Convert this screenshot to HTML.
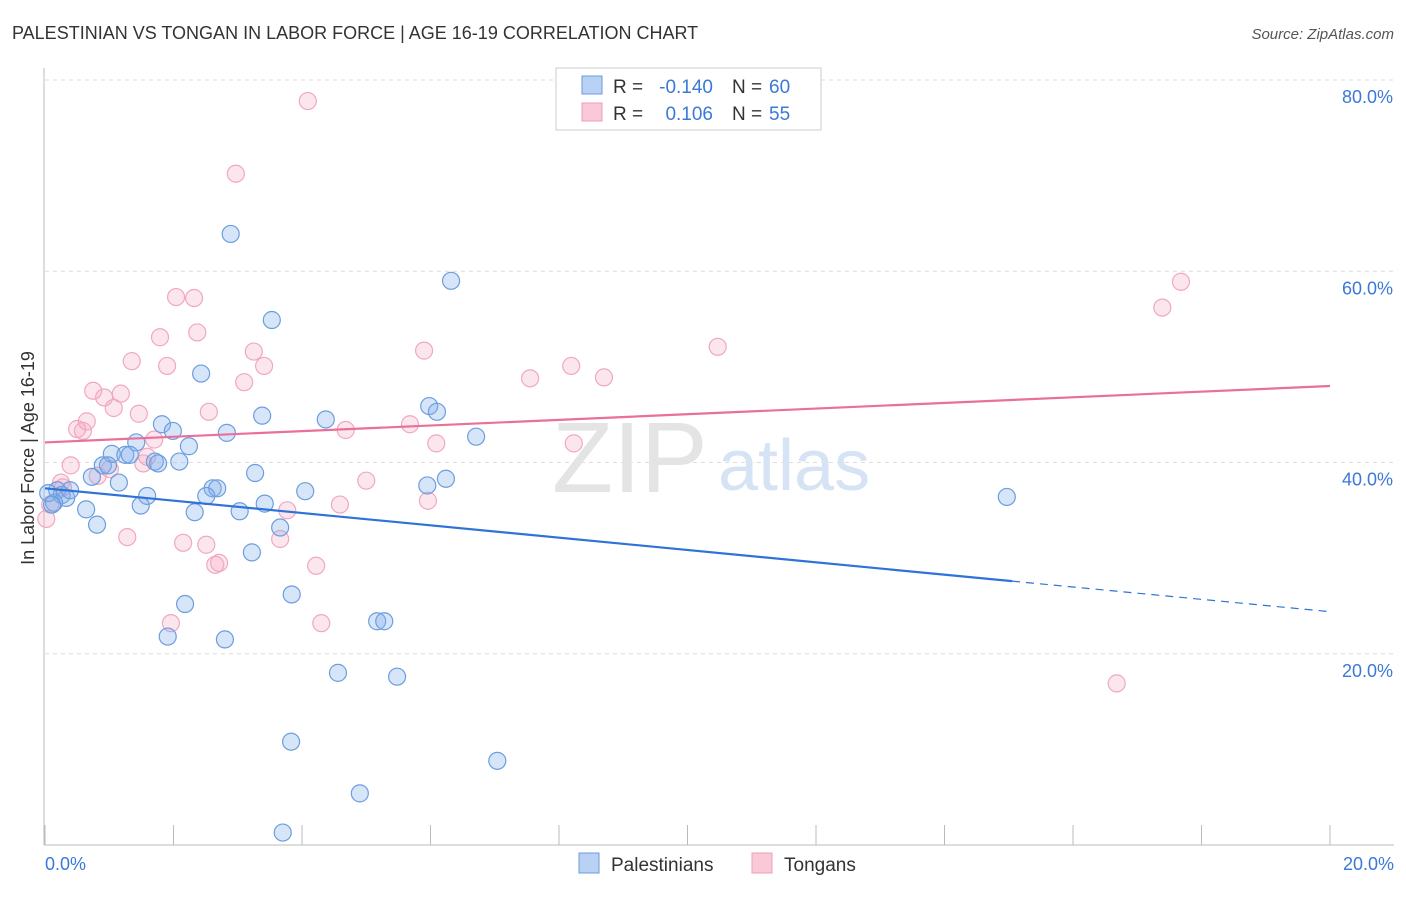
<!DOCTYPE html>
<html><head><meta charset="utf-8"><style>
body{margin:0;background:#fff;font-family:"Liberation Sans",sans-serif}
svg text{font-family:"Liberation Sans",sans-serif}
</style></head><body>
<svg id="chart" width="1406" height="892" viewBox="0 0 1406 892" xmlns="http://www.w3.org/2000/svg">
<text x="12" y="39" font-size="18" fill="#333">PALESTINIAN VS TONGAN IN LABOR FORCE | AGE 16-19 CORRELATION CHART</text>
<text x="1394" y="39" font-size="15" fill="#555" font-style="italic" text-anchor="end">Source: ZipAtlas.com</text>
<g id="grid"></g>
<text x="552" y="492" font-size="100" fill="#e4e4e4" font-family="Liberation Serif">ZIP</text>
<text x="718" y="490" font-size="72" fill="#d6e3f5">atlas</text>
<g id="pts"></g>
<g id="lines"></g>
<text transform="translate(34,458) rotate(-90)" font-size="18" fill="#333" text-anchor="middle">In Labor Force | Age 16-19</text>
<text x="45" y="870" font-size="18" fill="#3b78d8">0.0%</text>
<text x="1394" y="870" font-size="18" fill="#3b78d8" text-anchor="end">20.0%</text>
<g>
<rect x="556" y="68" width="265" height="62" fill="#fff" stroke="#ccc"/>
<rect x="582" y="76" width="20" height="18" fill="#b9d1f3" stroke="#6b9be0"/>
<rect x="582" y="103" width="20" height="18" fill="#f9c9d8" stroke="#ec9fb8"/>
<text x="613" y="93" font-size="19" fill="#333">R =</text>
<text x="713" y="93" font-size="19" fill="#3b78d8" text-anchor="end">-0.140</text>
<text x="732" y="93" font-size="19" fill="#333">N =</text>
<text x="769" y="93" font-size="19" fill="#3b78d8">60</text>
<text x="613" y="120" font-size="19" fill="#333">R =</text>
<text x="713" y="120" font-size="19" fill="#3b78d8" text-anchor="end">0.106</text>
<text x="732" y="120" font-size="19" fill="#333">N =</text>
<text x="769" y="120" font-size="19" fill="#3b78d8">55</text>
</g>
<g>
<rect x="579" y="853" width="20" height="20" fill="#b9d1f3" stroke="#6b9be0"/>
<text x="611" y="871" font-size="19" fill="#333">Palestinians</text>
<rect x="752" y="853" width="20" height="20" fill="#f9c9d8" stroke="#ec9fb8"/>
<text x="784" y="871" font-size="19" fill="#333">Tongans</text>
</g>
</svg>
<script>
const blueX=[2.89,6.32,3.53,2.43,3.38,4.37,5.98,6.10,6.71,1.82,1.99,2.83,2.24,1.42,1.04,1.25,1.32,1.71,1.76,2.09,0.90,0.98,0.73,1.15,3.27,6.24,5.95,4.05,2.61,2.68,2.51,1.59,1.49,3.42,3.03,2.33,0.64,0.81,3.66,3.22,0.19,0.26,0.33,0.14,0.05,2.18,3.84,1.91,2.80,5.17,5.28,4.56,5.48,3.83,7.04,4.90,3.70,14.97,0.39,0.11];
const blueY=[63.9,59.0,54.9,49.3,44.9,44.5,45.9,45.3,42.7,44.0,43.3,43.1,41.7,42.1,40.9,40.8,40.8,40.1,39.9,40.1,39.7,39.7,38.5,37.9,38.9,38.3,37.6,37.0,37.3,37.3,36.5,36.5,35.5,35.7,34.9,34.8,35.1,33.5,33.2,30.6,37.1,36.6,36.3,35.8,36.8,25.2,26.2,21.8,21.5,23.4,23.4,18.0,17.6,10.8,8.8,5.4,1.3,36.4,37.1,35.6];
const pinkX=[4.09,2.97,2.04,2.32,17.68,17.39,1.79,2.37,10.47,5.90,3.25,1.35,1.90,3.41,8.19,8.70,7.55,3.10,0.75,0.92,1.18,1.07,1.46,2.55,5.68,4.68,0.65,0.50,0.59,1.70,6.09,8.23,1.59,1.53,0.40,1.01,0.82,5.00,4.59,5.96,3.77,0.25,0.28,1.28,2.15,2.51,3.66,2.65,2.71,4.22,1.96,4.30,16.68,0.02,0.08];
const pinkY=[77.8,70.2,57.3,57.2,58.9,56.2,53.1,53.6,52.1,51.7,51.6,50.6,50.1,50.1,50.1,48.9,48.8,48.4,47.5,46.8,47.2,45.7,45.1,45.3,44.0,43.4,44.3,43.5,43.3,42.4,42.0,42.0,40.6,39.9,39.7,39.3,38.6,38.1,35.6,36.0,35.0,37.9,37.4,32.2,31.6,31.4,32.0,29.3,29.5,29.2,23.2,23.2,16.9,34.1,35.6];
const blueTrend=[37.3,24.4];
const pinkTrend=[42.1,48.0];
const yTicks=[20,40,60,80];
const xTicks=[0,2,4,6,8,10,12,14,16,18,20];
const NS='http://www.w3.org/2000/svg';
const sx=v=>45+v*64.25, sy=v=>845-v*9.5625;
function mk(t,a,p){const e=document.createElementNS(NS,t);for(const k in a)e.setAttribute(k,a[k]);p.appendChild(e);return e;}
const grid=document.getElementById('grid');
for(const t of yTicks){
 const l=mk('line',{x1:45,x2:1394,y1:sy(t),y2:sy(t),stroke:'#ddd','stroke-dasharray':'4,4'},grid);
 
 
 const tx=mk('text',{x:1393,y:sy(t)+23,'font-size':18,fill:'#3b78d8','text-anchor':'end'},grid);
 tx.textContent=t.toFixed(1)+'%';
 
 
}
const ax=mk('line',{x1:44,x2:1394,y1:845,y2:845,stroke:'#bbb'},grid);


const ay=mk('line',{x1:44,x2:44,y1:68,y2:845,stroke:'#bbb'},grid);


for(const t of xTicks){
 const k=mk('line',{x1:sx(t),x2:sx(t),y1:825,y2:845,stroke:'#bbb'},grid);
 
 
}
const pts=document.getElementById('pts');
pinkX.forEach((x,i)=>{const c=mk('circle',{cx:sx(x),cy:sy(pinkY[i]),r:8.5,fill:'rgba(244,165,192,0.28)',stroke:'#f0a8c0','stroke-width':1.2},pts);
 
 });
blueX.forEach((x,i)=>{const c=mk('circle',{cx:sx(x),cy:sy(blueY[i]),r:8.5,fill:'rgba(130,175,235,0.32)',stroke:'#6c9ede','stroke-width':1.2},pts);
 
 });
const lines=document.getElementById('lines');
const bAt=x=>blueTrend[0]+(blueTrend[1]-blueTrend[0])*x/20;
const b1=mk('line',{x1:sx(0),y1:sy(bAt(0)),x2:sx(15.05),y2:sy(bAt(15.05)),stroke:'#2f72d8','stroke-width':2.2},lines);


const b2=mk('line',{x1:sx(15.05),y1:sy(bAt(15.05)),x2:sx(20),y2:sy(bAt(20)),stroke:'#2f72d8','stroke-width':1.2,'stroke-dasharray':'8,6'},lines);


const p1=mk('line',{x1:sx(0),y1:sy(pinkTrend[0]),x2:sx(20),y2:sy(pinkTrend[1]),stroke:'#e8709a','stroke-width':2.2},lines);


</script>
</body></html>
